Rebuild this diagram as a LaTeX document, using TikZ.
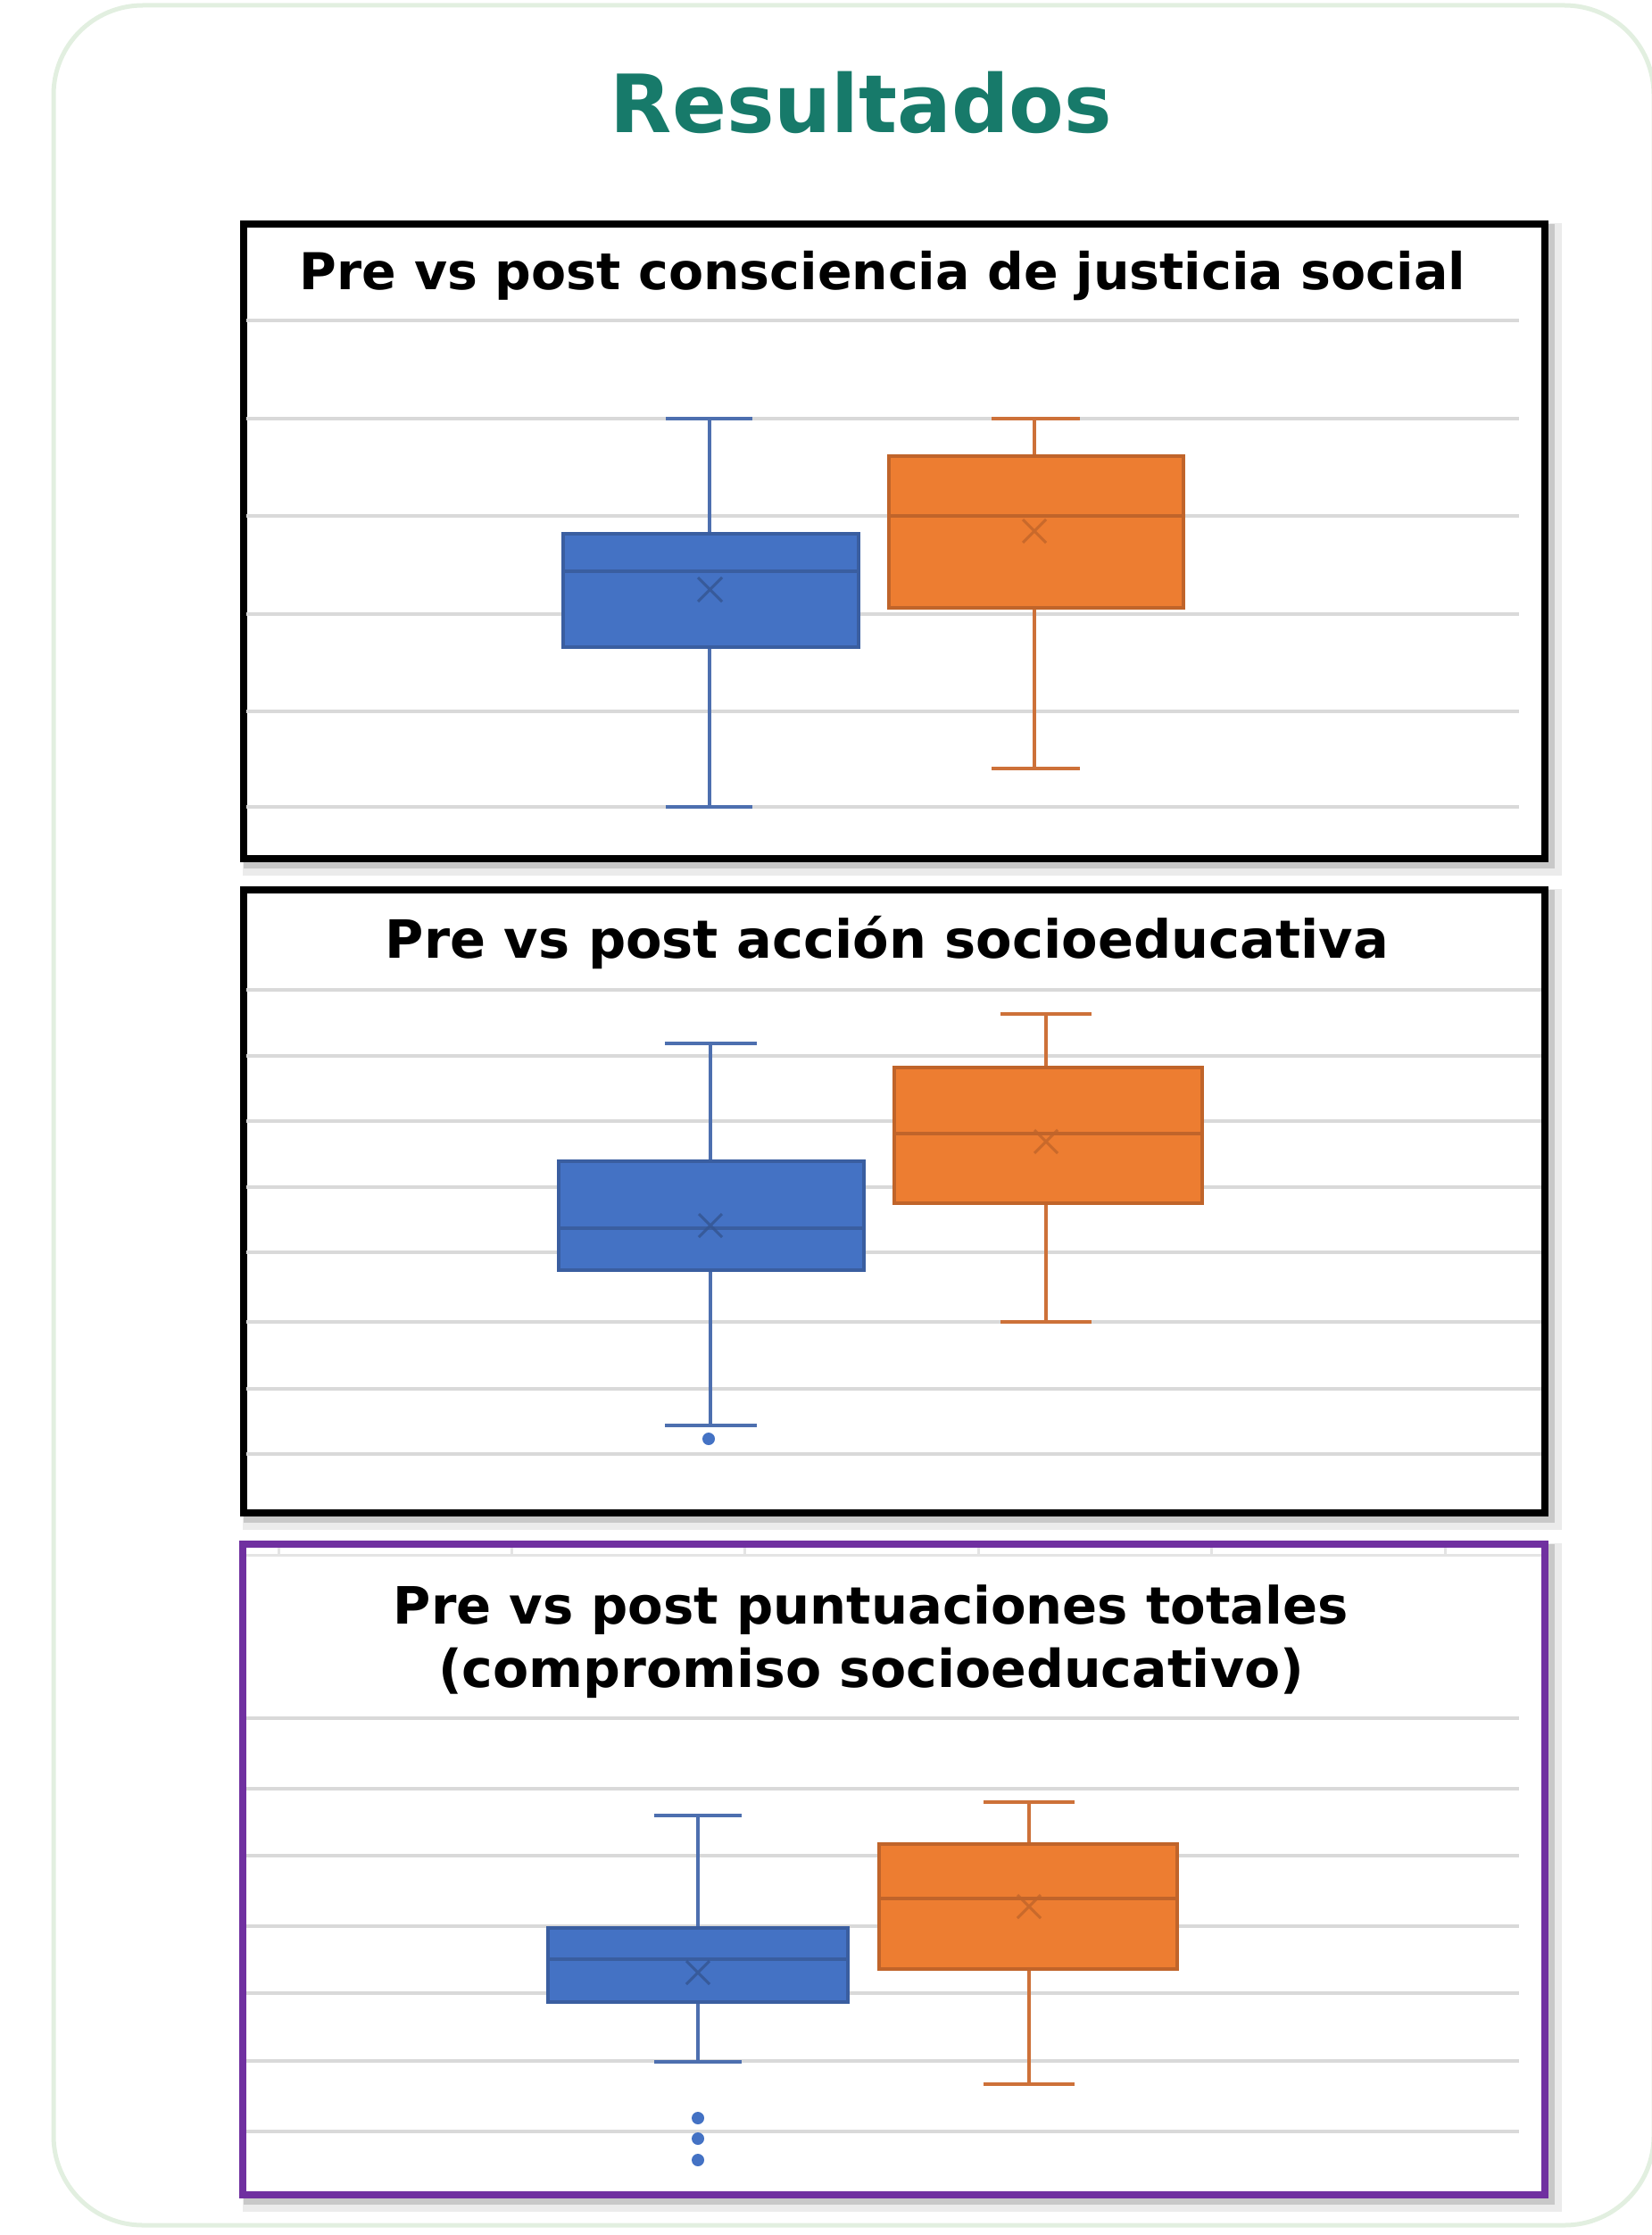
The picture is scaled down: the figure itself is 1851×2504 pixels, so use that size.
\documentclass[tikz,border=0pt]{standalone}
\usepackage{fontspec}
\setmainfont{DejaVu Sans}
\definecolor{frameg}{HTML}{E2EFE0}
\definecolor{teal}{HTML}{177A6A}
\definecolor{gridc}{HTML}{D9D9D9}
\definecolor{bfill}{HTML}{4472C4}
\definecolor{bline}{HTML}{3A5EA0}
\definecolor{bwhisk}{HTML}{4D6FAF}
\definecolor{ofill}{HTML}{ED7D31}
\definecolor{oline}{HTML}{C0642A}
\definecolor{owhisk}{HTML}{CD7139}
\definecolor{purp}{HTML}{7030A0}
\newcommand{\ttl}[2]{\resizebox{#1}{!}{\bfseries\fontsize{28pt}{34pt}\selectfont #2}}
\begin{document}
\begin{tikzpicture}[x=0.5pt,y=-0.5pt,
  gline/.style={draw=gridc,line width=2pt},
  faint/.style={draw=gridc!70,line width=1.5pt},
  shadowA/.style={draw=black,opacity=0.08,line width=9pt},
  shadowB/.style={draw=black,opacity=0.15,line width=5pt},
  panel/.style={draw=black,fill=white,line width=4pt},
  bbox/.style={fill=bfill,draw=bline,line width=2pt},
  obox/.style={fill=ofill,draw=oline,line width=2pt},
  bwh/.style={draw=bwhisk,line width=1.6pt},
  owh/.style={draw=owhisk,line width=1.6pt},
  bcap/.style={draw=bwhisk,line width=2.4pt},
  ocap/.style={draw=owhisk,line width=2.4pt},
  bmean/.style={draw=bline!90!black,opacity=0.8,line width=1.5pt},
  omean/.style={draw=oline,opacity=0.8,line width=1.5pt},
  ptitle/.style={anchor=base,inner sep=0pt}]
\useasboundingbox (0,0) rectangle (1851,2504);
% outer frame
\draw[draw=frameg,line width=2.5pt,rounded corners=50pt] (60,6) rectangle (1853,2493);
% main title
\node[anchor=base,text=teal,font=\bfseries\fontsize{45pt}{54pt}\selectfont,inner sep=0pt] (title) at (965,149) {Resultados};

% ---------- panel 1 ----------
\draw[shadowA] (281,259) rectangle (1741,972);
\draw[shadowB] (278,256) rectangle (1737,968);
\draw[panel] (273,251) rectangle (1731,962);
\node[ptitle] (t1) at (989,325) {\ttl{653pt}{Pre vs post consciencia de justicia social}};
\foreach \y in {359,469,578,688,797,904} \draw[gline] (276,\y) -- (1702,\y);
% blue
\draw[bwh] (795,469) -- (795,904);
\draw[bcap] (746,469) -- (843,469);
\draw[bcap] (746,904) -- (843,904);
\draw[bbox] (631,598) rectangle (962,725);
\draw[draw=bline,line width=2pt] (631,640) -- (962,640);
\draw[bmean] (782,647) -- (809,674) (782,674) -- (809,647);
% orange
\draw[owh] (1159,469) -- (1159,861);
\draw[ocap] (1111,469) -- (1210,469);
\draw[ocap] (1111,861) -- (1210,861);
\draw[obox] (996,511) rectangle (1326,681);
\draw[draw=oline,line width=2pt] (996,578) -- (1326,578);
\draw[omean] (1146,582) -- (1172,608) (1146,608) -- (1172,582);

% ---------- panel 2 ----------
\draw[shadowA] (281,1005) rectangle (1741,1705);
\draw[shadowB] (278,1002) rectangle (1737,1701);
\draw[panel] (273,997) rectangle (1731,1695);
\node[ptitle] (t2) at (994,1073) {\ttl{562pt}{Pre vs post acción socioeducativa}};
\foreach \y in {1109,1183,1256,1330,1403,1481,1556,1629} \draw[gline] (276,\y) -- (1727,\y);
% blue
\draw[bwh] (796,1169) -- (796,1597);
\draw[bcap] (745,1169) -- (848,1169);
\draw[bcap] (745,1597) -- (848,1597);
\draw[bbox] (626,1301) rectangle (968,1423);
\draw[draw=bline,line width=2pt] (626,1376) -- (968,1376);
\draw[bmean] (783,1360) -- (809,1386) (783,1386) -- (809,1360);
\fill[bfill] (794,1612) circle (7);
% orange
\draw[owh] (1172,1136) -- (1172,1481);
\draw[ocap] (1121,1136) -- (1223,1136);
\draw[ocap] (1121,1481) -- (1223,1481);
\draw[obox] (1002,1196) rectangle (1347,1348);
\draw[draw=oline,line width=2pt] (1002,1270) -- (1347,1270);
\draw[omean] (1159,1266) -- (1185,1292) (1159,1292) -- (1185,1266);

% ---------- panel 3 ----------
\draw[shadowA] (281,1738) rectangle (1741,2469);
\draw[shadowB] (278,1735) rectangle (1737,2465);
\draw[panel,draw=purp] (272,1730) rectangle (1731,2459);
\draw[faint] (276,1742) -- (1727,1742);
\foreach \x in {312,573,834,1096,1357,1619} \draw[faint] (\x,1734) -- (\x,1742);
\node[ptitle] (t3a) at (976,1819) {\ttl{535pt}{Pre vs post puntuaciones totales}};
\node[ptitle] (t3b) at (976,1890) {\ttl{485pt}{(compromiso socioeducativo)}};
\foreach \y in {1925,2004,2079,2158,2233,2309,2388} \draw[gline] (276,\y) -- (1702,\y);
% blue
\draw[bwh] (782,2034) -- (782,2310);
\draw[bcap] (733,2034) -- (831,2034);
\draw[bcap] (733,2310) -- (831,2310);
\draw[bbox] (614,2160) rectangle (950,2243);
\draw[draw=bline,line width=2pt] (614,2195) -- (950,2195);
\draw[bmean] (769,2197) -- (795,2223) (769,2223) -- (795,2197);
\fill[bfill] (782,2373) circle (7);
\fill[bfill] (782,2396) circle (7);
\fill[bfill] (782,2420) circle (7);
% orange
\draw[owh] (1153,2019) -- (1153,2335);
\draw[ocap] (1102,2019) -- (1204,2019);
\draw[ocap] (1102,2335) -- (1204,2335);
\draw[obox] (985,2066) rectangle (1319,2206);
\draw[draw=oline,line width=2pt] (985,2127) -- (1319,2127);
\draw[omean] (1140,2123) -- (1166,2149) (1140,2149) -- (1166,2123);
\end{tikzpicture}
\end{document}
